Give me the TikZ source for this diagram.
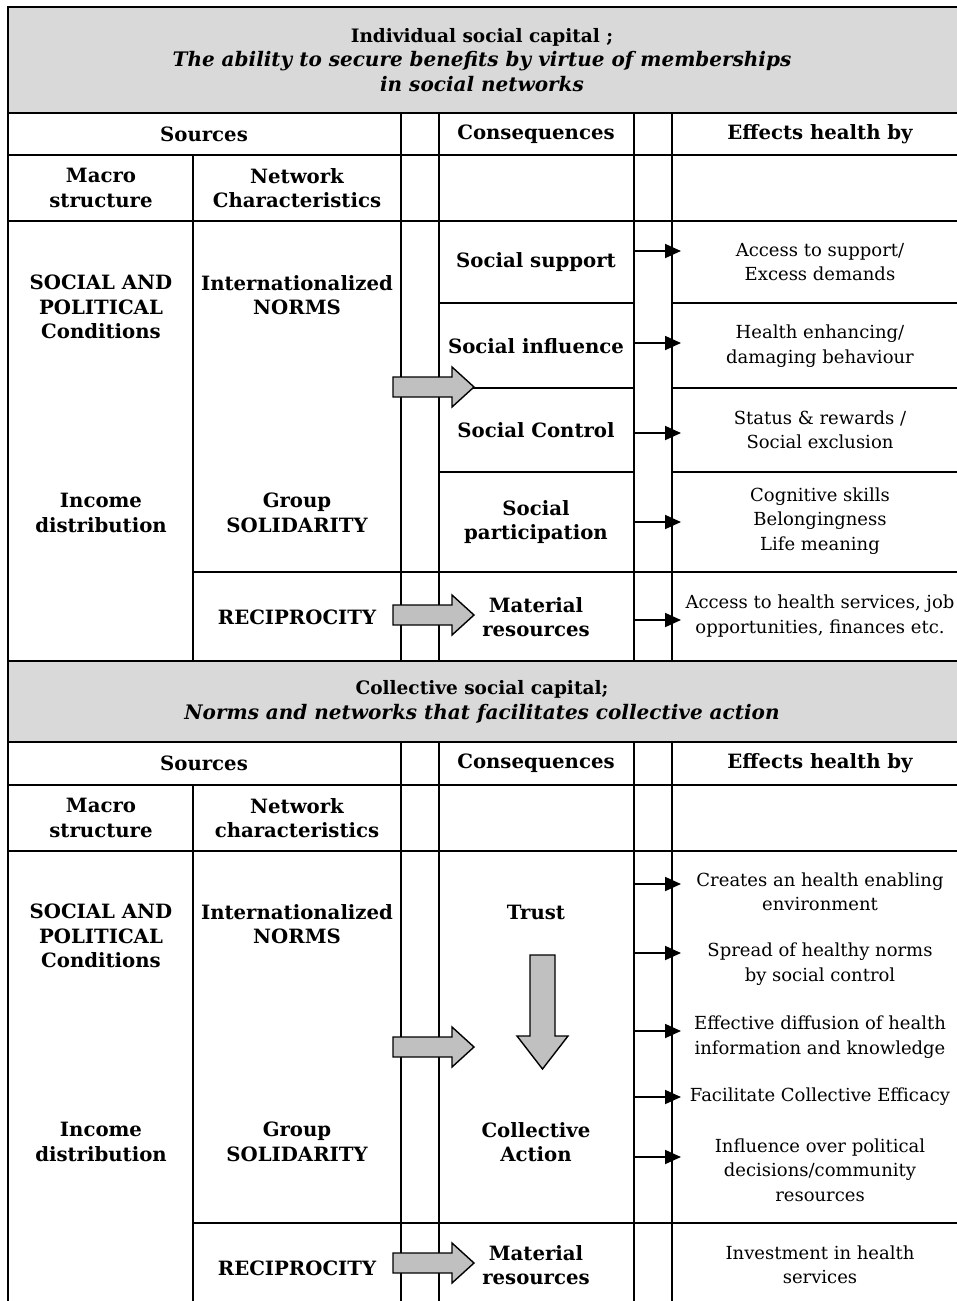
\documentclass[tikz,border=0pt]{standalone}
\usepackage{fontspec}
\setmainfont{DejaVu Serif}
\usetikzlibrary{arrows.meta}

\definecolor{hdrgray}{RGB}{217,217,217}
\definecolor{arrgray}{RGB}{192,192,192}
\newcommand{\txtsize}{\fontsize{18}{24.5}\selectfont}
\newcommand{\boldsize}{\fontsize{19.7}{24.5}\selectfont}
\newcommand{\slant}[1]{{\fontsize{20}{24.5}\selectfont\itshape #1}}

\tikzstyle{every node}=[align=center,inner sep=0pt,font=\txtsize]
\tikzstyle{boldtxt}=[font=\boldsize\bfseries]
\tikzstyle{titletxt}=[font=\fontsize{18.5}{24.5}\selectfont\bfseries]
\tikzstyle{tabline}=[line width=2.6pt,line cap=rect]
\tikzstyle{smallarrow}=[line width=1.8pt,-{Triangle[length=16pt,width=14pt]}]
\tikzstyle{blockarrow}=[draw=black,line width=1.4pt,fill=arrgray,line join=miter]

\begin{document}
\begin{tikzpicture}[x=1pt,y=-1pt]
        \useasboundingbox (0,0) rectangle (957,1301);
        \fill[white] (0,0) rectangle (957,1301);
        \clip (0,0) rectangle (957,1301);

        %% Grey title bands
        \fill[hdrgray] (8,7) rectangle (965,113);
        \fill[hdrgray] (8,661) rectangle (965,742);

        %% The table rules
        \foreach \y in {7,113,155,221,661,742,785,851}
        \draw[tabline](8,\y) -- (965,\y);
        \foreach \y in {572,1223}
        \draw[tabline](193,\y) -- (965,\y);
        \foreach \y in {303,388,472}
        {\draw[tabline](439,\y) -- (634,\y);
         \draw[tabline](672,\y) -- (965,\y);}
        \draw[tabline](8,7) -- (8,1310);
        \draw[tabline](193,155) -- (193,661);
        \draw[tabline](193,785) -- (193,1310);
        \foreach \x in {401,439,634,672}
        {\draw[tabline](\x,113) -- (\x,661);
         \draw[tabline](\x,742) -- (\x,1310);}

        %% Individual social capital
        \node[titletxt] (title1) at (482,60) {Individual social capital ;\\
          \slant{The ability to secure benefits by virtue of memberships}\\
          \slant{in social networks}};
        \node[boldtxt] (src1) at (204,134) {Sources};
        \node[boldtxt] (cons1) at (536,134) {Consequences};
        \node[boldtxt] (eff1) at (820,134) {Effects health by};
        \node[boldtxt] (macro1) at (101,188) {Macro\\structure};
        \node[boldtxt] (net1) at (297,188) {Network\\Characteristics};
        \node[boldtxt] (socpol1) at (101,307) {SOCIAL AND\\POLITICAL\\Conditions};
        \node[boldtxt] (income1) at (101,513) {Income\\distribution};
        \node[boldtxt] (norms1) at (297,295) {Internationalized\\NORMS};
        \node[boldtxt] (solid1) at (297,513) {Group\\SOLIDARITY};
        \node[boldtxt] (recip1) at (297,617) {RECIPROCITY};
        \node[boldtxt] (ssupport) at (536,262) {Social support};
        \node[boldtxt] (sinfluence) at (536,346) {Social influence};
        \node[boldtxt] (scontrol) at (536,430) {Social Control};
        \node[boldtxt] (sparticip) at (536,522) {Social\\participation};
        \node[boldtxt] (material1) at (536,617) {Material\\resources};
        \node (e11) at (820,262) {Access to support/\\Excess demands};
        \node (e12) at (820,346) {Health enhancing/\\damaging behaviour};
        \node (e13) at (820,430) {Status \& rewards /\\Social exclusion};
        \node (e14) at (820,521) {Cognitive skills\\Belongingness\\Life meaning};
        \node (e15) at (820,616) {Access to health services, job\\opportunities, finances etc.};

        %% Collective social capital
        \node[titletxt] (title2) at (482,702) {Collective social capital;\\
          \slant{Norms and networks that facilitates collective action}};
        \node[boldtxt] (src2) at (204,763) {Sources};
        \node[boldtxt] (cons2) at (536,763) {Consequences};
        \node[boldtxt] (eff2) at (820,763) {Effects health by};
        \node[boldtxt] (macro2) at (101,818) {Macro\\structure};
        \node[boldtxt] (net2) at (297,818) {Network\\characteristics};
        \node[boldtxt] (socpol2) at (101,936) {SOCIAL AND\\POLITICAL\\Conditions};
        \node[boldtxt] (income2) at (101,1142) {Income\\distribution};
        \node[boldtxt] (norms2) at (297,924) {Internationalized\\NORMS};
        \node[boldtxt] (solid2) at (297,1142) {Group\\SOLIDARITY};
        \node[boldtxt] (recip2) at (297,1268) {RECIPROCITY};
        \node[boldtxt] (trust) at (536,912) {Trust};
        \node[boldtxt] (collact) at (536,1142) {Collective\\Action};
        \node[boldtxt] (material2) at (536,1265) {Material\\resources};
        \node (e21) at (820,892) {Creates an health enabling\\environment};
        \node (e22) at (820,964) {Spread of healthy norms\\by social control};
        \node (e23) at (820,1037) {Effective diffusion of health\\information and knowledge};
        \node (e24) at (820,1097) {Facilitate Collective Efficacy};
        \node (e25) at (820,1170) {Influence over political\\decisions/community\\resources};
        \node (e26) at (820,1265) {Investment in health\\services};

        %%% The block arrows
        \foreach \y in {387,615,1047,1263}
        \draw[blockarrow](393,\y-10) -- (452,\y-10) -- (452,\y-20) -- (474,\y)
          -- (452,\y+20) -- (452,\y+10) -- (393,\y+10) -- cycle;
        \draw[blockarrow](530,955) -- (555,955) -- (555,1036) -- (568,1036)
          -- (542.5,1069) -- (517,1036) -- (530,1036) -- cycle;

        %%% Leads into the effects column
        \foreach \y [count=\i] in {251,343,433,522,620}
        {\coordinate (a\i) at (634,\y);
         \coordinate (b\i) at (681,\y);
         \draw[smallarrow](a\i) -- (b\i);}
        \foreach \y [count=\i] in {884,953,1031,1097,1157}
        {\coordinate (c\i) at (634,\y);
         \coordinate (d\i) at (681,\y);
         \draw[smallarrow](c\i) -- (d\i);}
\end{tikzpicture}
\end{document}
